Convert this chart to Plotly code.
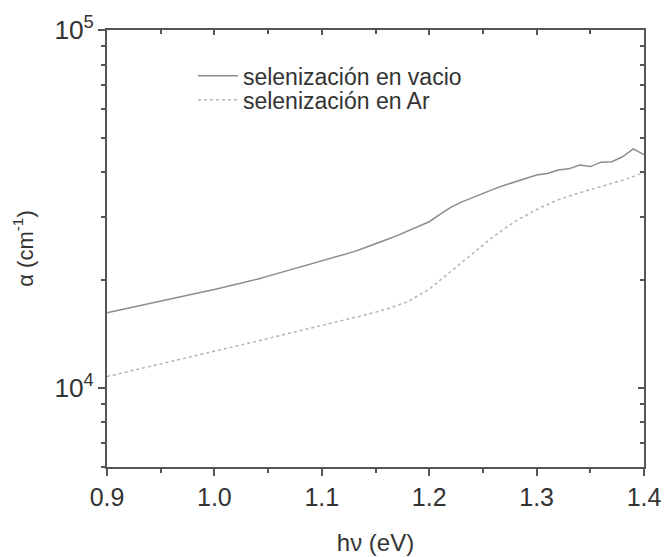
import plotly.graph_objects as go

# Energy (eV) and absorption coefficient (cm^-1)
hv_vacio = [0.90, 0.91, 0.92, 0.93, 0.94, 0.95, 0.96, 0.97, 0.98, 0.99,
            1.00, 1.01, 1.02, 1.03, 1.04, 1.05, 1.06, 1.07, 1.08, 1.09,
            1.10, 1.11, 1.12, 1.13, 1.14, 1.15, 1.16, 1.17, 1.18, 1.19,
            1.20, 1.21, 1.22, 1.23, 1.24, 1.25, 1.26, 1.27, 1.28, 1.29,
            1.30, 1.31, 1.32, 1.33, 1.34, 1.35, 1.36, 1.37, 1.38, 1.39, 1.40]
alpha_vacio = [16200, 16450, 16700, 16950, 17200, 17500, 17800, 18050, 18300, 18550,
               18800, 19100, 19400, 19750, 20100, 20500, 20900, 21300, 21700, 22150,
               22600, 23000, 23500, 24000, 24600, 25200, 25900, 26600, 27400, 28200,
               29100, 30500, 31900, 33000, 34000, 35000, 35900, 36800, 37600, 38300,
               39300, 39700, 40600, 40900, 41900, 41500, 42700, 42800, 44200, 46500, 44800]

hv_ar = [0.90, 0.92, 0.94, 0.96, 0.98, 1.00, 1.02, 1.04, 1.06, 1.08,
         1.10, 1.12, 1.14, 1.16, 1.18, 1.20, 1.22, 1.24, 1.26, 1.28,
         1.30, 1.32, 1.34, 1.36, 1.38, 1.40]
alpha_ar = [10740, 11090, 11460, 11850, 12240, 12650, 13060, 13490, 13960, 14420,
            14890, 15420, 15960, 16560, 17380, 18840, 21130, 23710, 26490, 29170,
            31480, 33500, 35080, 36480, 38020, 39900]

series_names = ["selenización en vacio", "selenización en Ar"]
x_range = [0.9, 1.4]
y_range_log = [3.778, 5.0]

axcol = "#555555"
txtcol = "#333333"
font_family = "Liberation Sans, Arial, sans-serif"

fig = go.Figure()
fig.add_trace(go.Scatter(x=hv_vacio, y=alpha_vacio, mode="lines",
                         name=series_names[0], legend="legend",
                         line=dict(color="#8c8c8c", width=1.5)))
fig.add_trace(go.Scatter(x=hv_ar, y=alpha_ar, mode="lines",
                         name=series_names[1], legend="legend2",
                         line=dict(color="#b4b4b4", width=1.5, dash="dot")))
# invisible trace so the mirrored (top/right) tick axes are drawn
fig.add_trace(go.Scatter(x=[None], y=[None], xaxis="x2", yaxis="y2",
                         showlegend=False, hoverinfo="skip"))

leg_common = dict(xanchor="left", yanchor="middle", bgcolor="rgba(0,0,0,0)",
                  font=dict(size=23, color=txtcol), itemwidth=40)

fig.update_layout(
    width=665, height=557,
    margin=dict(l=107, r=21, t=30, b=90),
    paper_bgcolor="white", plot_bgcolor="white",
    font=dict(family=font_family, size=24, color=txtcol),
    showlegend=True,
    legend=dict(x=0.16, y=0.895, **leg_common),
    legend2=dict(x=0.16, y=0.840, **leg_common),
    xaxis=dict(range=x_range, dtick=0.1, tick0=0.9, tickformat=".1f",
               automargin=False,
               showgrid=False, zeroline=False,
               showline=True, linecolor=axcol, linewidth=2, mirror=True,
               ticks="outside", ticklen=7, tickwidth=2, tickcolor=axcol,
               minor=dict(dtick=0.05, ticks="outside", ticklen=4, tickwidth=2, tickcolor=axcol),
               tickfont=dict(size=25),
               title=dict(text="hν (eV)", font=dict(size=24), standoff=24)),
    yaxis=dict(type="log", range=y_range_log, dtick=1, exponentformat="power",
               automargin=False,
               showgrid=False, zeroline=False,
               showline=True, linecolor=axcol, linewidth=2, mirror=True,
               ticks="outside", ticklen=7, tickwidth=2, tickcolor=axcol,
               minor=dict(dtick="D1", ticks="outside", ticklen=4, tickwidth=2,
                          tickcolor=axcol, showgrid=False),
               tickfont=dict(size=21),
               title=dict(text="α (cm<sup>-1</sup>)", font=dict(size=22))),
    xaxis2=dict(range=x_range, overlaying="x", side="top", anchor="y2",
                automargin=False,
                showgrid=False, zeroline=False, showticklabels=False, showline=False,
                dtick=0.1, tick0=0.9,
                ticks="inside", ticklen=5, tickwidth=2, tickcolor=axcol,
                minor=dict(dtick=0.05, ticks="inside", ticklen=4, tickwidth=2, tickcolor=axcol)),
    yaxis2=dict(type="log", range=y_range_log, overlaying="y", side="right", anchor="x2",
                automargin=False,
                showgrid=False, zeroline=False, showticklabels=False, showline=False,
                dtick=1,
                ticks="inside", ticklen=6, tickwidth=2, tickcolor=axcol,
                minor=dict(dtick="D1", ticks="inside", ticklen=4, tickwidth=2, tickcolor=axcol)),
)

fig.write_html("out.html")
